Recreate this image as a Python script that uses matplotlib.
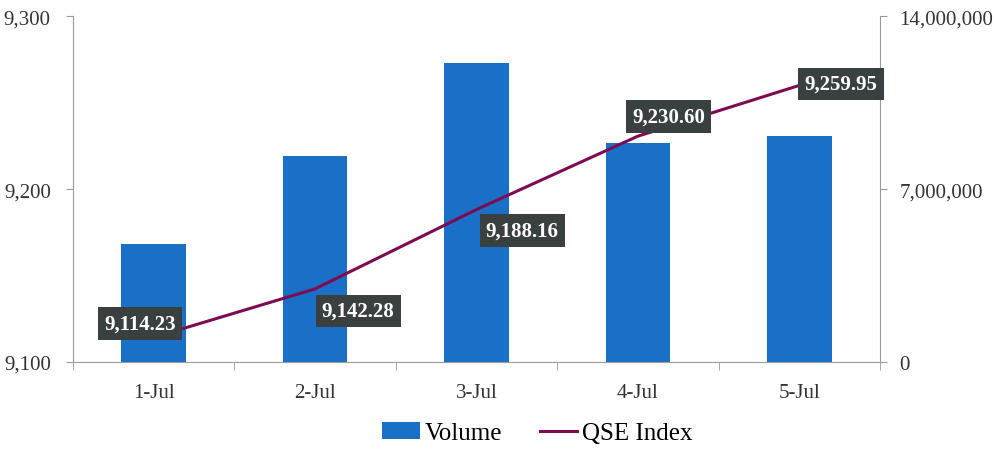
import matplotlib.pyplot as plt
import numpy as np
from matplotlib.ticker import FuncFormatter

plt.rcParams["font.family"] = ["Liberation Serif", "DejaVu Serif"]

dates = ["1-Jul", "2-Jul", "3-Jul", "4-Jul", "5-Jul"]
volume = [4780000, 8350000, 12100000, 8870000, 9150000]
qse_index = [9114.23, 9142.28, 9188.16, 9230.60, 9259.95]
# label offsets in points (dx, dy) from each line point
label_offsets = [(-10, 10), (31, -16), (33, -15), (22, 14), (30, 1)]

bar_color = "#1a6fc7"
line_color = "#7d0b52"
grey = "#9a9a9a"

fig = plt.figure(figsize=(9.95, 4.52), dpi=100)
ax = fig.add_axes([0.0734, 0.197, 0.811, 0.765])
ax2 = ax.twinx()

x = np.arange(len(dates))
bars = ax2.bar(x, volume, width=0.4, color=bar_color, label="Volume", zorder=1)
ax2.set_ylim(0, 14000000)
ax2.set_yticks([0, 7000000, 14000000])
ax2.yaxis.set_major_formatter(FuncFormatter(lambda v, p: f"{v:,.0f}"))

ax.set_zorder(ax2.get_zorder() + 1)
ax.patch.set_visible(False)
line, = ax.plot(x, qse_index, color=line_color, lw=2.2, label="QSE Index")
ax.set_ylim(9100, 9300)
ax.set_yticks([9100, 9200, 9300])
ax.yaxis.set_major_formatter(FuncFormatter(lambda v, p: f"{v:,.0f}"))
ax.set_xlim(-0.5, len(dates) - 0.5)
ax.set_xticks(x)
ax.set_xticklabels(dates)
ax.set_xticks(np.arange(-0.5, len(dates)), minor=True)

for i, (v, off) in enumerate(zip(qse_index, label_offsets)):
    ax.annotate(f"{v:,.2f}", (x[i], v), xytext=off, textcoords="offset points",
                ha="center", va="center", color="white", fontsize=15,
                fontweight="bold",
                bbox=dict(boxstyle="square,pad=0.3", fc="#3a3f3f", ec="none"))

for a in (ax, ax2):
    a.spines["top"].set_visible(False)
    for s in ("left", "right", "bottom"):
        a.spines[s].set_color(grey)
    a.tick_params(colors=grey, labelcolor="#333333", labelsize=15, length=5)
ax.spines["right"].set_visible(False)
ax2.spines["left"].set_visible(False)
ax2.spines["bottom"].set_visible(False)
ax.tick_params(axis="x", which="major", length=0, pad=15)
ax.tick_params(axis="x", which="minor", length=6, color=grey)
ax.tick_params(axis="y", pad=11)
ax2.tick_params(axis="y", pad=9)

fig.legend([bars, line], ["Volume", "QSE Index"], loc="lower center",
           bbox_to_anchor=(0.54, -0.035), ncol=2, frameon=False, fontsize=18,
           handlelength=1.5, handletextpad=0.2, columnspacing=1.5)

fig.savefig("out.png", dpi=100)
